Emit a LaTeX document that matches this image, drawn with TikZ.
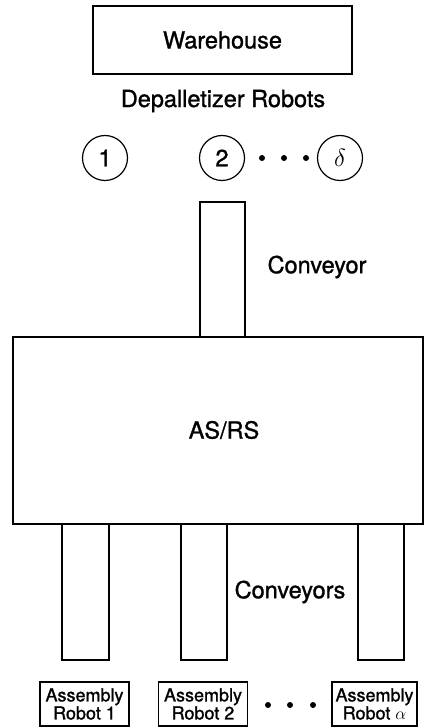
\documentclass[tikz,border=0pt]{standalone}
\usepackage{fontspec}
\setmainfont{TeX Gyre Heros}[FakeBold=1.2]
\usetikzlibrary{positioning}
\tikzset{
  plant/.style={draw, line width=1.2pt, inner sep=0pt},
  bigtext/.style={font=\fontsize{23.5}{26}\selectfont},
  depbot/.style={plant, circle, minimum size=45pt, bigtext},
  belt/.style={plant, minimum width=46pt, minimum height=136pt},
  asmbot/.style={plant, align=center, minimum height=44pt,
                 font=\fontsize{18}{16}\selectfont},
  gap/.style={circle, fill, inner sep=0pt, minimum size=6pt},
}
\begin{document}
\begin{tikzpicture}[x=1pt,y=-1pt]
\useasboundingbox (0,0) rectangle (424,727);
% top of the line
\node[plant, bigtext, minimum width=259pt, minimum height=68pt] (warehouse) at (222.5,40) {Warehouse};
\node[bigtext] (deplabel) at (223,101) {Depalletizer Robots};
\node[depbot] (dep1) at (105,158) {1};
\node[depbot] (dep2) at (222,158) {2};
\node[depbot] (depd) at (340,158) {$\delta$};
\foreach \x/\n in {262/a,284/b,306/c}
  \node[gap] (dg\n) at (\x,158) {};
% storage
\node[belt, minimum width=45pt, minimum height=135pt] (feed) at (222.5,269.5) {};
\node[bigtext] (feedlabel) at (317,267) {Conveyor};
\node[plant, bigtext, minimum width=410pt, minimum height=187pt] (asrs) at (218,430.5) {};
\node[bigtext] (asrslabel) at (224,430) {AS/RS};
% assembly side
\node[belt, minimum width=47pt] (out1) at (85.5,592) {};
\node[belt] (out2) at (204,592) {};
\node[belt] (outa) at (381,592) {};
\node[bigtext] (outlabel) at (290,592) {Conveyors};
\node[asmbot, minimum width=89pt] (asm1) at (84.5,704) {Assembly\\Robot 1};
\node[asmbot, minimum width=89pt] (asm2) at (203,704) {Assembly\\Robot 2};
\node[asmbot, minimum width=85pt] (asma) at (374.5,704) {Assembly\\Robot $\alpha$};
\foreach \x/\n in {268/a,290/b,313/c}
  \node[gap] (ag\n) at (\x,705) {};
\end{tikzpicture}
\end{document}
